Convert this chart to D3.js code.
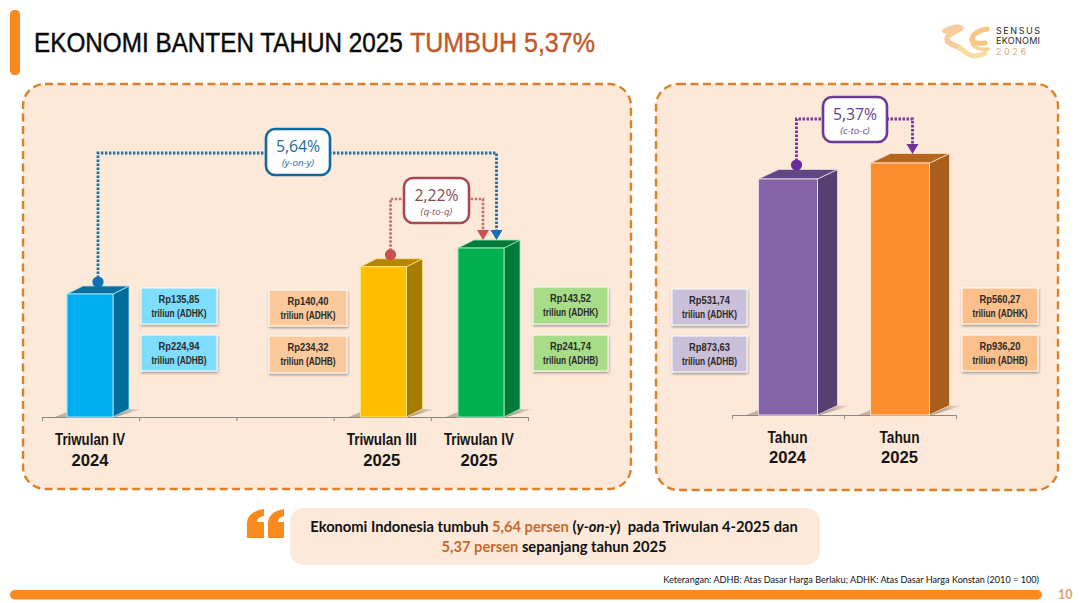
<!DOCTYPE html>
<html><head><meta charset="utf-8">
<script src="https://cdn.jsdelivr.net/npm/d3@7/dist/d3.min.js"></script>
<style>html,body{margin:0;padding:0;background:#fff;overflow:hidden}svg{display:block}</style>
</head><body><svg id="c" width="1080" height="603" xmlns="http://www.w3.org/2000/svg"></svg>
<script>
// ---- data ----
const quarterCategories = [["Triwulan IV","2024"],null,null,["Triwulan III","2025"],["Triwulan IV","2025"]];
const quarterAdhk = [135.85,null,null,140.40,143.52];
const quarterAdhb = [224.94,null,null,234.32,241.74];
const yearCategories = [["Tahun","2024"],["Tahun","2025"]];
const yearAdhk = [531.74,560.27];
const yearAdhb = [873.63,936.20];
const growthYoY = "5,64%", growthQtQ = "2,22%", growthCtC = "5,37%";

const SANS = "'Liberation Sans',sans-serif";
const HUM = "Lato,'Open Sans',sans-serif";
const svg = d3.select("#c");
const defs = svg.append("defs");
const sh = defs.append("filter").attr("id","sh").attr("x","-20%").attr("y","-20%").attr("width","140%").attr("height","150%");
sh.append("feDropShadow").attr("dx",0.5).attr("dy",1.5).attr("stdDeviation",1.2).attr("flood-color","#000").attr("flood-opacity",.4);
const fl = defs.append("linearGradient").attr("id","floor").attr("x1",0).attr("x2",1).attr("y1",0).attr("y2",0);
fl.append("stop").attr("offset",0).attr("stop-color","#6b5a4c").attr("stop-opacity",.75);
fl.append("stop").attr("offset",1).attr("stop-color","#6b5a4c").attr("stop-opacity",0);

const fmt = v => "Rp" + v.toFixed(2).replace(".",",");
// no condensed face is installed: squeeze the glyphs to the measured width
function squeeze(sel,w){ sel.attr("textLength",w).attr("lengthAdjust","spacingAndGlyphs"); return sel; }

// header
svg.append("rect").attr("x",10).attr("y",10).attr("width",10).attr("height",65).attr("rx",4.5).attr("fill","#fb8a1e");
[["EKONOMI BANTEN TAHUN 2025",34,369,"#0a0a0a"],["TUMBUH 5,37%",410,185,"#bf5b2a"]].forEach(d=>{
  const t = svg.append("text").attr("font-family",SANS).attr("font-size",28).attr("fill",d[3]).attr("stroke",d[3]).attr("stroke-width",.45).text(d[0]);
  t.attr("transform",`translate(${d[1]},52) scale(${d[2]/t.node().getComputedTextLength()},1)`);
});

// logo
const logo = svg.append("g").attr("fill","none").attr("stroke-linecap","round").attr("stroke-linejoin","round");
[["M945 31C951 28 957 26 961 28C956 32 947 34 947 39C947 44 955 45 960 48","#f9cd9b",5.5],
 ["M960 48C965 52 968 56 974 56C978 56 982 55 985 53","#f8dca0",5],
 ["M987 29C980 30 974 33 972 38C971 43 977 44 985 43","#f9c585",5],
 ["M972 44C975 48 980 50 988 49","#f7cf96",3.5]]
 .forEach(d=>logo.append("path").attr("d",d[0]).attr("stroke",d[1]).attr("stroke-width",d[2]));
[["SENSUS",33.5,"#2a2a2a",44],["EKONOMI",44,"#2a2a2a",44],["2026",54.5,"#d9b27a",30]].forEach(d=>
  svg.append("text").attr("x",996).attr("y",d[1]).attr("font-family","Inter,sans-serif").attr("font-size",9).attr("fill",d[2]).attr("textLength",d[3]).attr("lengthAdjust","spacing").text(d[0]));

// panels
[[23,84,608,405],[656,84,402,406]].forEach(p=>svg.append("rect").attr("x",p[0]).attr("y",p[1]).attr("width",p[2]).attr("height",p[3])
  .attr("rx",22).attr("fill","#fde9d9").attr("stroke","#dc8128").attr("stroke-width",2.4).attr("stroke-dasharray","8 4.5"));

function drawChart(cfg){
  const idx = cfg.cats.map((_,i)=>i);
  const x = d3.scaleBand().domain(idx).range(cfg.xr);
  const y = d3.scaleLinear().domain(cfg.yd).range([cfg.base,cfg.base-cfg.yspan]);
  const g = svg.append("g");
  const axisScale = d3.scaleLinear().domain([0,idx.length]).range(cfg.xr);
  const ax = g.append("g").attr("transform",`translate(0,${cfg.base})`)
    .call(d3.axisBottom(axisScale).ticks(idx.length).tickSize(4).tickSizeOuter(4).tickFormat(""));
  ax.selectAll("path,line").attr("stroke","#8c8780").attr("stroke-width",1);
  const bw = cfg.bw, dx = cfg.dx, dy = cfg.dy;
  const barL = i => x(i)+x.bandwidth()/2-bw/2+cfg.nudge[i];
  idx.forEach(i=>{
    const v = cfg.vals[i]; if(v==null) return;
    const L = barL(i), T = y(v), B = y.range()[0], c = cfg.colors[i];
    g.append("polygon").attr("points",[[L+bw,B],[L+bw+dx,B-dy],[L+bw+dx+14,B-dy],[L+bw+2,B]].join(" ")).attr("fill","url(#floor)");
    g.append("polygon").attr("points",[[L-12,B],[L,B-5],[L,B]].join(" ")).attr("fill","#8a7a6c").attr("opacity",.5);
    g.append("polygon").attr("points",[[L+bw,T],[L+bw+dx,T-dy],[L+bw+dx,B-dy],[L+bw,B]].join(" ")).attr("fill",c[1]).attr("stroke",c[3]).attr("stroke-width",.8);
    g.append("polygon").attr("points",[[L,T],[L+dx,T-dy],[L+bw+dx,T-dy],[L+bw,T]].join(" ")).attr("fill",c[2]).attr("stroke",c[3]).attr("stroke-width",.8);
    g.append("rect").attr("x",L).attr("y",T).attr("width",bw).attr("height",B-T).attr("fill",c[0]).attr("stroke",c[3]).attr("stroke-width",1);
    cfg.cats[i].forEach((t,k)=>{
      const w = k ? 37 : (t==="Tahun" ? 40 : 70);
      squeeze(g.append("text").attr("text-anchor","middle").attr("x",x(i)+x.bandwidth()/2-.5).attr("y",cfg.labY[k])
        .attr("font-family",SANS).attr("font-weight",700).attr("font-size",16.5).attr("fill","#141414").text(t),w);
    });
  });
  return {x,y,barL};
}
function box(xp,yp,w,h,fill,val,kind){
  const g = svg.append("g");
  g.append("rect").attr("x",xp).attr("y",yp).attr("width",w).attr("height",h).attr("fill",fill).attr("stroke","#fff").attr("stroke-width",1).attr("filter","url(#sh)");
  const t = (y,s,len)=>squeeze(g.append("text").attr("text-anchor","middle").attr("x",xp+w/2).attr("y",y).attr("font-family",SANS)
    .attr("font-weight",700).attr("font-size",10.5).attr("fill","#2a2a2a").text(s),len);
  t(yp+15,fmt(val),41); t(yp+29,"triliun ("+kind+")",55);
}
function callout(xp,yp,w,h,col,txtCol,big,small){
  const g = svg.append("g");
  g.append("rect").attr("x",xp).attr("y",yp).attr("width",w).attr("height",h).attr("rx",9).attr("fill","#fff").attr("stroke",col).attr("stroke-width",2.6);
  g.append("text").attr("x",xp+w/2).attr("y",yp+23).attr("text-anchor","middle").attr("font-family","'Open Sans',sans-serif").attr("font-weight",500).attr("font-size",15.8).attr("fill",txtCol).text(big);
  g.append("text").attr("x",xp+w/2).attr("y",yp+37).attr("text-anchor","middle").attr("font-family","'Open Sans',sans-serif").attr("font-style","italic").attr("font-size",9.8).attr("fill",txtCol).text(small);
}
function link(pts,col,w){
  svg.append("path").attr("d",d3.line()(pts)).attr("fill","none").attr("stroke",col).attr("stroke-width",w).attr("stroke-dasharray","2.4 1.6");
}
const tri = (xc,tip,col) => svg.append("polygon").attr("points",[[xc-6,tip-10],[xc+6,tip-10],[xc,tip]].join(" ")).attr("fill",col);
const dot = (xc,yc,col) => svg.append("circle").attr("cx",xc).attr("cy",yc).attr("r",5.6).attr("fill",col);

// left chart
const Q = drawChart({cats:quarterCategories,vals:quarterAdhk,xr:[42,528],yd:[115.35,143.52],base:417,yspan:169,bw:46,dx:16,dy:8,
  nudge:[-.6,0,0,1.3,1.6],labY:[445,466],
  colors:[["#00aeef","#006d9a","#0a6f9c","#a6e6fb"],null,null,["#ffbf00","#a87c00","#b58700","#ffe28a"],["#00b04f","#007a36","#007a36","#9fe8bd"]]});
const L = drawChart({cats:yearCategories,vals:yearAdhk,xr:[732,956],yd:[110.3,560.27],base:415,yspan:252,bw:59,dx:20,dy:9.5,
  nudge:[0,0],labY:[443,463],
  colors:[["#8562a6","#573f70","#5f4880","#e6d9f0"],["#fd8e30","#a95e1b","#b5661f","#ffe0c0"]]});

// value boxes
box(141,288,76,36,"#7fdefe",quarterAdhk[0],"ADHK"); box(141,335,76,36,"#7fdefe",quarterAdhb[0],"ADHB");
box(269,290,78,36,"#fbc99b",quarterAdhk[3],"ADHK"); box(269,336,78,37,"#fbc99b",quarterAdhb[3],"ADHB");
box(533,287,75,37,"#a8dc88",quarterAdhk[4],"ADHK"); box(533,335,75,36,"#a8dc88",quarterAdhb[4],"ADHB");
box(672,289,75,36,"#cbc0da",yearAdhk[0],"ADHK");    box(672,336,75,36,"#cbc0da",yearAdhb[0],"ADHB");
box(962,288,76,36,"#fbc08c",yearAdhk[1],"ADHK");    box(962,335,76,36,"#fbc08c",yearAdhb[1],"ADHB");

// connectors, anchored on the bars through the scales
const qTop0 = Q.y(quarterAdhk[0]), qTop3 = Q.y(quarterAdhk[3]), qTop4 = Q.y(quarterAdhk[4]);
const blueL = Q.barL(0)+31, redL = Q.barL(3)+30;
const blueR = Q.barL(4)+38.5, redR = Q.barL(4)+25;
link([[blueL,qTop0-12],[blueL,153],[blueR,153],[blueR,qTop4-10]],"#1f6fa8",2.8);
link([[redL,qTop3-12],[redL,199],[redR,199],[redR,qTop4-12]],"#c96a6a",2.6);
tri(blueR,qTop4-8,"#0f70b7"); tri(redR,qTop4-8,"#c8504e");
dot(blueL,qTop0-12,"#0f70b7"); dot(redL,qTop3-12,"#c8504e");
callout(266,129,64,46,"#0f6a9e","#1a6a98",growthYoY,"(y-on-y)");
callout(404,178,65,45,"#a94a52","#8a4a50",growthQtQ,"(q-to-q)");

const yTop0 = L.y(yearAdhk[0]), yTop1 = L.y(yearAdhk[1]);
const pL = L.barL(0)+38, pR = L.barL(1)+42;
link([[pL,yTop0-14],[pL,119],[pR,119],[pR,yTop1-14]],"#7030a0",2.8);
tri(pR,yTop1-9,"#7030a0"); dot(pL,yTop0-14,"#6a2a9c");
callout(823,97,64,45,"#6a3a94","#5f3f88",growthCtC,"(c-to-c)");

// quote
svg.append("path").attr("d","M247 538V524C247 516 252 511 264 509V516C259 517 257 519 257 522H264V538ZM268 538V524C268 516 273 511 284 509V516C280 517 278 519 278 522H284V538Z").attr("fill","#fb8a1e");
svg.append("rect").attr("x",290).attr("y",508).attr("width",530).attr("height",57).attr("rx",14).attr("fill","#fde9d9");
const q = svg.append("g").attr("font-family",HUM).attr("font-weight",700).attr("font-size",14.7).attr("text-anchor","middle").attr("fill","#111");
const l1 = q.append("text").attr("x",554).attr("y",532);
l1.append("tspan").text("Ekonomi Indonesia tumbuh ");
l1.append("tspan").attr("fill","#c8682e").text("5,64 persen ");
l1.append("tspan").text("(");
l1.append("tspan").attr("font-style","italic").text("y-on-y");
l1.append("tspan").text(")\u00a0\u00a0pada Triwulan 4-2025 dan");
const l2 = q.append("text").attr("x",554).attr("y",552);
l2.append("tspan").attr("fill","#c8682e").text("5,37 persen ");
l2.append("tspan").text("sepanjang tahun 2025");

// footer
svg.append("text").attr("x",1039).attr("y",583).attr("text-anchor","end").attr("font-family",HUM).attr("font-size",9.15).attr("fill","#111")
  .text("Keterangan: ADHB: Atas Dasar Harga Berlaku; ADHK: Atas Dasar Harga Konstan (2010 = 100)");
svg.append("rect").attr("x",10).attr("y",590).attr("width",1032).attr("height",9.5).attr("rx",4.7).attr("fill","#fb8a1e");
svg.append("text").attr("x",1058).attr("y",599).attr("font-family",HUM).attr("font-weight",700).attr("font-size",12.5).attr("fill","#e3a06c").text("10");
</script></body></html>
